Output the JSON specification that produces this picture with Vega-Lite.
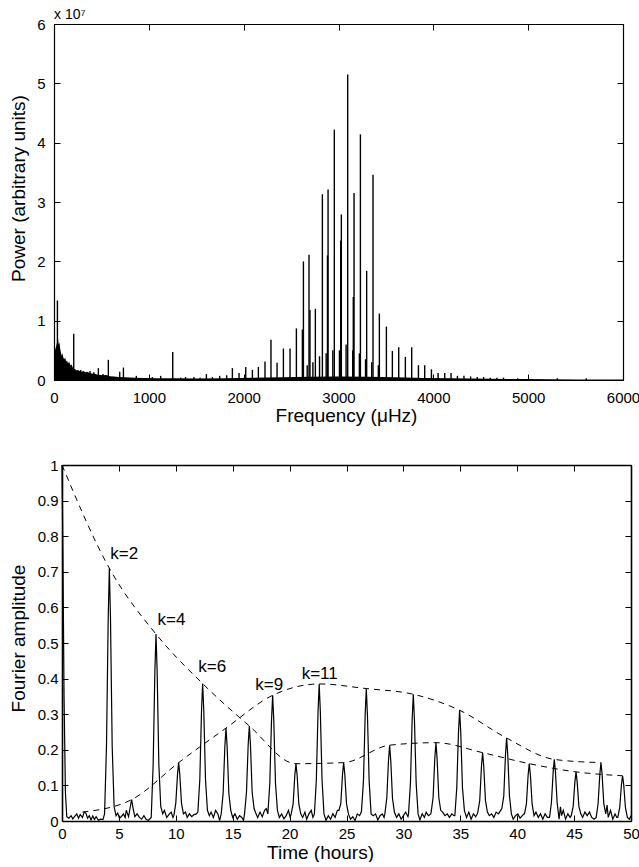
{
  "$schema": "https://vega.github.io/schema/vega-lite/v6.json",
  "padding": {"left": 8, "top": 8, "right": 0, "bottom": 0},
  "config": {
    "font": "Liberation Sans",
    "view": {"stroke": null},
    "axis": {
      "grid": false, "domainColor": "black", "tickColor": "black", "labelColor": "black", "titleColor": "black",
      "labelFont": "Liberation Sans", "titleFont": "Liberation Sans", "labelFontSize": 15, "titleFontSize": 19,
      "titleFontWeight": "normal", "tickSize": -6, "domainWidth": 1.2, "tickWidth": 1, "labelFlush": false, "labelOverlap": false
    },
    "title": {"font": "Liberation Sans", "color": "black"}
  },
  "datasets": {
    "spacer": [{"s": 0}],
    "spikes": [
      {"freq": 36, "power": 13400000}, {"freq": 208, "power": 7800000}, {"freq": 282, "power": 1700000},
      {"freq": 380, "power": 1500000}, {"freq": 420, "power": 1300000}, {"freq": 468, "power": 2000000},
      {"freq": 517, "power": 1000000}, {"freq": 573, "power": 3400000}, {"freq": 693, "power": 1400000},
      {"freq": 732, "power": 2100000}, {"freq": 868, "power": 700000}, {"freq": 1037, "power": 500000},
      {"freq": 1125, "power": 700000}, {"freq": 1252, "power": 4700000}, {"freq": 1336, "power": 400000},
      {"freq": 1387, "power": 500000}, {"freq": 1476, "power": 500000}, {"freq": 1540, "power": 400000},
      {"freq": 1607, "power": 1000000}, {"freq": 1670, "power": 500000}, {"freq": 1747, "power": 700000},
      {"freq": 1821, "power": 800000}, {"freq": 1881, "power": 2000000}, {"freq": 1951, "power": 1200000},
      {"freq": 2022, "power": 2200000}, {"freq": 2092, "power": 1700000}, {"freq": 2155, "power": 2200000},
      {"freq": 2225, "power": 3100000}, {"freq": 2288, "power": 6800000}, {"freq": 2352, "power": 2900000},
      {"freq": 2419, "power": 5300000}, {"freq": 2489, "power": 5300000}, {"freq": 2556, "power": 8700000},
      {"freq": 2619, "power": 8500000}, {"freq": 2630, "power": 20000000}, {"freq": 2670, "power": 2500000},
      {"freq": 2689, "power": 21100000}, {"freq": 2699, "power": 11800000}, {"freq": 2730, "power": 3000000},
      {"freq": 2756, "power": 12000000}, {"freq": 2800, "power": 4000000}, {"freq": 2830, "power": 31300000},
      {"freq": 2870, "power": 4500000}, {"freq": 2884, "power": 21000000}, {"freq": 2890, "power": 32100000},
      {"freq": 2940, "power": 5000000}, {"freq": 2956, "power": 42200000}, {"freq": 3010, "power": 5000000},
      {"freq": 3023, "power": 23500000}, {"freq": 3030, "power": 27900000}, {"freq": 3080, "power": 6000000},
      {"freq": 3097, "power": 51500000}, {"freq": 3150, "power": 5000000}, {"freq": 3156, "power": 14000000},
      {"freq": 3164, "power": 31500000}, {"freq": 3220, "power": 4500000}, {"freq": 3231, "power": 41400000},
      {"freq": 3285, "power": 3500000}, {"freq": 3297, "power": 18400000}, {"freq": 3350, "power": 3000000},
      {"freq": 3364, "power": 34600000}, {"freq": 3420, "power": 2500000}, {"freq": 3431, "power": 11200000},
      {"freq": 3505, "power": 9000000}, {"freq": 3568, "power": 4900000}, {"freq": 3635, "power": 5500000},
      {"freq": 3705, "power": 3900000}, {"freq": 3772, "power": 5500000}, {"freq": 3843, "power": 2500000},
      {"freq": 3909, "power": 2500000}, {"freq": 3980, "power": 1800000}, {"freq": 4050, "power": 1200000},
      {"freq": 4120, "power": 1200000}, {"freq": 4187, "power": 1200000}, {"freq": 4254, "power": 700000},
      {"freq": 4323, "power": 700000}, {"freq": 4393, "power": 600000}, {"freq": 4463, "power": 500000},
      {"freq": 4530, "power": 500000}, {"freq": 4600, "power": 400000}, {"freq": 4670, "power": 400000},
      {"freq": 4740, "power": 400000}, {"freq": 4890, "power": 300000}, {"freq": 5308, "power": 300000},
      {"freq": 5613, "power": 300000}
    ],
    "floor": [
      {"freq": 8, "power": 0}, {"freq": 10, "power": 5000000}, {"freq": 20, "power": 5500000},
      {"freq": 30, "power": 6200000}, {"freq": 42, "power": 7100000}, {"freq": 50, "power": 6000000},
      {"freq": 58, "power": 6300000}, {"freq": 66, "power": 5200000}, {"freq": 75, "power": 4500000},
      {"freq": 82, "power": 4100000}, {"freq": 90, "power": 4500000}, {"freq": 98, "power": 3800000},
      {"freq": 108, "power": 3500000}, {"freq": 118, "power": 3800000}, {"freq": 128, "power": 3100000},
      {"freq": 138, "power": 3300000}, {"freq": 148, "power": 2800000}, {"freq": 160, "power": 3100000},
      {"freq": 172, "power": 2500000}, {"freq": 185, "power": 2600000}, {"freq": 198, "power": 2100000},
      {"freq": 212, "power": 1900000}, {"freq": 225, "power": 1800000}, {"freq": 240, "power": 1600000},
      {"freq": 255, "power": 1700000}, {"freq": 270, "power": 1500000}, {"freq": 290, "power": 1400000},
      {"freq": 310, "power": 1500000}, {"freq": 330, "power": 1300000}, {"freq": 350, "power": 1400000},
      {"freq": 375, "power": 1200000}, {"freq": 400, "power": 1100000}, {"freq": 430, "power": 1050000},
      {"freq": 460, "power": 900000}, {"freq": 490, "power": 850000}, {"freq": 520, "power": 800000},
      {"freq": 550, "power": 850000}, {"freq": 590, "power": 650000}, {"freq": 630, "power": 600000},
      {"freq": 680, "power": 500000}, {"freq": 750, "power": 450000}, {"freq": 850, "power": 380000},
      {"freq": 950, "power": 330000}, {"freq": 1100, "power": 300000}, {"freq": 1300, "power": 280000},
      {"freq": 1500, "power": 250000}, {"freq": 1800, "power": 300000}, {"freq": 2100, "power": 380000},
      {"freq": 2400, "power": 450000}, {"freq": 2700, "power": 550000}, {"freq": 3000, "power": 600000},
      {"freq": 3300, "power": 550000}, {"freq": 3600, "power": 450000}, {"freq": 3900, "power": 350000},
      {"freq": 4200, "power": 280000}, {"freq": 4600, "power": 200000}, {"freq": 5000, "power": 150000},
      {"freq": 5500, "power": 100000}, {"freq": 6000, "power": 80000}
    ],
    "signal": [
      {"t": 0, "a": 1.0}, {"t": 0.08, "a": 0.75}, {"t": 0.18, "a": 0.35}, {"t": 0.3, "a": 0.08}, {"t": 0.42, "a": 0.012},
      {"t": 0.6, "a": 0.008}, {"t": 0.8, "a": 0.015}, {"t": 0.95, "a": 0.006}, {"t": 1.1, "a": 0.012}, {"t": 1.3, "a": 0.02},
      {"t": 1.45, "a": 0.008}, {"t": 1.6, "a": 0.018}, {"t": 1.8, "a": 0.01}, {"t": 1.95, "a": 0.025}, {"t": 2.1, "a": 0.022},
      {"t": 2.25, "a": 0.008}, {"t": 2.4, "a": 0.015}, {"t": 2.55, "a": 0.003}, {"t": 2.7, "a": 0.014}, {"t": 2.85, "a": 0.004},
      {"t": 3.0, "a": 0.012}, {"t": 3.2, "a": 0.002}, {"t": 3.4, "a": 0.005}, {"t": 3.6, "a": 0.004},
      {"t": 3.74, "a": 0.02}, {"t": 3.91, "a": 0.21}, {"t": 4.06, "a": 0.57}, {"t": 4.16, "a": 0.71}, {"t": 4.26, "a": 0.57}, {"t": 4.41, "a": 0.21}, {"t": 4.58, "a": 0.04},
      {"t": 4.75, "a": 0.015}, {"t": 4.9, "a": 0.022}, {"t": 5.05, "a": 0.008}, {"t": 5.2, "a": 0.012}, {"t": 5.4, "a": 0.02}, {"t": 5.55, "a": 0.01}, {"t": 5.65, "a": 0.03},
      {"t": 5.85, "a": 0.012}, {"t": 6.0, "a": 0.04}, {"t": 6.12, "a": 0.06}, {"t": 6.25, "a": 0.035}, {"t": 6.4, "a": 0.012},
      {"t": 6.6, "a": 0.02}, {"t": 6.8, "a": 0.01}, {"t": 7.0, "a": 0.005}, {"t": 7.2, "a": 0.015}, {"t": 7.4, "a": 0.004}, {"t": 7.6, "a": 0.002},
      {"t": 7.84, "a": 0.01}, {"t": 8.01, "a": 0.158}, {"t": 8.16, "a": 0.42}, {"t": 8.26, "a": 0.525}, {"t": 8.36, "a": 0.42}, {"t": 8.51, "a": 0.158}, {"t": 8.68, "a": 0.04},
      {"t": 8.85, "a": 0.02}, {"t": 9.0, "a": 0.03}, {"t": 9.2, "a": 0.01}, {"t": 9.45, "a": 0.02}, {"t": 9.6, "a": 0.025}, {"t": 9.75, "a": 0.01},
      {"t": 9.83, "a": 0.015}, {"t": 10.0, "a": 0.05}, {"t": 10.15, "a": 0.131}, {"t": 10.25, "a": 0.164}, {"t": 10.35, "a": 0.131}, {"t": 10.5, "a": 0.05}, {"t": 10.67, "a": 0.02},
      {"t": 10.85, "a": 0.025}, {"t": 11.0, "a": 0.01}, {"t": 11.2, "a": 0.02}, {"t": 11.4, "a": 0.012}, {"t": 11.6, "a": 0.018}, {"t": 11.8, "a": 0.02},
      {"t": 11.94, "a": 0.025}, {"t": 12.11, "a": 0.116}, {"t": 12.26, "a": 0.309}, {"t": 12.36, "a": 0.386}, {"t": 12.46, "a": 0.309}, {"t": 12.61, "a": 0.116}, {"t": 12.78, "a": 0.03},
      {"t": 12.95, "a": 0.015}, {"t": 13.1, "a": 0.025}, {"t": 13.3, "a": 0.01}, {"t": 13.5, "a": 0.03}, {"t": 13.7, "a": 0.02}, {"t": 13.85, "a": 0.001},
      {"t": 13.99, "a": 0.02}, {"t": 14.16, "a": 0.078}, {"t": 14.31, "a": 0.209}, {"t": 14.41, "a": 0.261}, {"t": 14.51, "a": 0.209}, {"t": 14.66, "a": 0.078}, {"t": 14.83, "a": 0.03},
      {"t": 15.0, "a": 0.01}, {"t": 15.2, "a": 0.02}, {"t": 15.4, "a": 0.005}, {"t": 15.6, "a": 0.015}, {"t": 15.8, "a": 0.01}, {"t": 15.95, "a": 0.002},
      {"t": 16.04, "a": 0.02}, {"t": 16.21, "a": 0.08}, {"t": 16.36, "a": 0.214}, {"t": 16.46, "a": 0.267}, {"t": 16.56, "a": 0.214}, {"t": 16.71, "a": 0.08}, {"t": 16.88, "a": 0.035},
      {"t": 17.05, "a": 0.02}, {"t": 17.2, "a": 0.01}, {"t": 17.4, "a": 0.025}, {"t": 17.6, "a": 0.012}, {"t": 17.8, "a": 0.03}, {"t": 17.95, "a": 0.035},
      {"t": 18.09, "a": 0.02}, {"t": 18.26, "a": 0.106}, {"t": 18.41, "a": 0.282}, {"t": 18.51, "a": 0.353}, {"t": 18.61, "a": 0.282}, {"t": 18.76, "a": 0.106}, {"t": 18.93, "a": 0.03},
      {"t": 19.1, "a": 0.01}, {"t": 19.3, "a": 0.02}, {"t": 19.5, "a": 0.006}, {"t": 19.7, "a": 0.015}, {"t": 19.9, "a": 0.03}, {"t": 20.05, "a": 0.01},
      {"t": 20.14, "a": 0.02}, {"t": 20.31, "a": 0.048}, {"t": 20.46, "a": 0.129}, {"t": 20.56, "a": 0.161}, {"t": 20.66, "a": 0.129}, {"t": 20.81, "a": 0.048}, {"t": 20.98, "a": 0.02},
      {"t": 21.15, "a": 0.01}, {"t": 21.35, "a": 0.025}, {"t": 21.5, "a": 0.005}, {"t": 21.7, "a": 0.02}, {"t": 21.9, "a": 0.03}, {"t": 22.05, "a": 0.01},
      {"t": 22.18, "a": 0.02}, {"t": 22.35, "a": 0.116}, {"t": 22.5, "a": 0.308}, {"t": 22.6, "a": 0.385}, {"t": 22.7, "a": 0.308}, {"t": 22.85, "a": 0.116}, {"t": 23.02, "a": 0.02},
      {"t": 23.2, "a": 0.002}, {"t": 23.4, "a": 0.015}, {"t": 23.6, "a": 0.005}, {"t": 23.8, "a": 0.02}, {"t": 24.0, "a": 0.01}, {"t": 24.2, "a": 0.03},
      {"t": 24.33, "a": 0.03}, {"t": 24.5, "a": 0.049}, {"t": 24.65, "a": 0.131}, {"t": 24.75, "a": 0.164}, {"t": 24.85, "a": 0.131}, {"t": 25.0, "a": 0.049}, {"t": 25.17, "a": 0.02},
      {"t": 25.35, "a": 0.005}, {"t": 25.55, "a": 0.012}, {"t": 25.75, "a": 0.001}, {"t": 25.95, "a": 0.02}, {"t": 26.15, "a": 0.015}, {"t": 26.3, "a": 0.025},
      {"t": 26.32, "a": 0.03}, {"t": 26.49, "a": 0.112}, {"t": 26.64, "a": 0.298}, {"t": 26.74, "a": 0.372}, {"t": 26.84, "a": 0.298}, {"t": 26.99, "a": 0.112}, {"t": 27.16, "a": 0.02},
      {"t": 27.35, "a": 0.015}, {"t": 27.55, "a": 0.02}, {"t": 27.75, "a": 0.003}, {"t": 27.95, "a": 0.015}, {"t": 28.15, "a": 0.02}, {"t": 28.3, "a": 0.01},
      {"t": 28.37, "a": 0.02}, {"t": 28.54, "a": 0.064}, {"t": 28.69, "a": 0.17}, {"t": 28.79, "a": 0.213}, {"t": 28.89, "a": 0.17}, {"t": 29.04, "a": 0.064}, {"t": 29.21, "a": 0.025},
      {"t": 29.4, "a": 0.01}, {"t": 29.6, "a": 0.02}, {"t": 29.8, "a": 0.005}, {"t": 30.0, "a": 0.015}, {"t": 30.2, "a": 0.025}, {"t": 30.4, "a": 0.012},
      {"t": 30.45, "a": 0.02}, {"t": 30.62, "a": 0.107}, {"t": 30.77, "a": 0.285}, {"t": 30.87, "a": 0.356}, {"t": 30.97, "a": 0.285}, {"t": 31.12, "a": 0.107}, {"t": 31.29, "a": 0.02},
      {"t": 31.45, "a": 0.003}, {"t": 31.65, "a": 0.02}, {"t": 31.85, "a": 0.01}, {"t": 32.0, "a": 0.025}, {"t": 32.2, "a": 0.015}, {"t": 32.4, "a": 0.02},
      {"t": 32.44, "a": 0.025}, {"t": 32.61, "a": 0.066}, {"t": 32.76, "a": 0.176}, {"t": 32.86, "a": 0.22}, {"t": 32.96, "a": 0.176}, {"t": 33.11, "a": 0.066}, {"t": 33.28, "a": 0.03},
      {"t": 33.45, "a": 0.025}, {"t": 33.65, "a": 0.015}, {"t": 33.85, "a": 0.02}, {"t": 34.05, "a": 0.01}, {"t": 34.25, "a": 0.02}, {"t": 34.45, "a": 0.015},
      {"t": 34.52, "a": 0.015}, {"t": 34.69, "a": 0.093}, {"t": 34.84, "a": 0.249}, {"t": 34.94, "a": 0.311}, {"t": 35.04, "a": 0.249}, {"t": 35.19, "a": 0.093}, {"t": 35.36, "a": 0.03},
      {"t": 35.55, "a": 0.01}, {"t": 35.75, "a": 0.025}, {"t": 35.95, "a": 0.005}, {"t": 36.15, "a": 0.02}, {"t": 36.35, "a": 0.012}, {"t": 36.5, "a": 0.02},
      {"t": 36.54, "a": 0.025}, {"t": 36.71, "a": 0.058}, {"t": 36.86, "a": 0.154}, {"t": 36.96, "a": 0.192}, {"t": 37.06, "a": 0.154}, {"t": 37.21, "a": 0.058}, {"t": 37.38, "a": 0.025},
      {"t": 37.55, "a": 0.015}, {"t": 37.75, "a": 0.02}, {"t": 37.95, "a": 0.01}, {"t": 38.15, "a": 0.025}, {"t": 38.35, "a": 0.02}, {"t": 38.55, "a": 0.03},
      {"t": 38.65, "a": 0.035}, {"t": 38.82, "a": 0.07}, {"t": 38.97, "a": 0.186}, {"t": 39.07, "a": 0.233}, {"t": 39.17, "a": 0.186}, {"t": 39.32, "a": 0.07}, {"t": 39.49, "a": 0.02},
      {"t": 39.65, "a": 0.005}, {"t": 39.85, "a": 0.015}, {"t": 40.05, "a": 0.02}, {"t": 40.25, "a": 0.008}, {"t": 40.45, "a": 0.015}, {"t": 40.6, "a": 0.02},
      {"t": 40.64, "a": 0.02}, {"t": 40.81, "a": 0.048}, {"t": 40.96, "a": 0.129}, {"t": 41.06, "a": 0.161}, {"t": 41.16, "a": 0.129}, {"t": 41.31, "a": 0.048}, {"t": 41.48, "a": 0.015},
      {"t": 41.65, "a": 0.025}, {"t": 41.85, "a": 0.01}, {"t": 42.05, "a": 0.02}, {"t": 42.25, "a": 0.005}, {"t": 42.45, "a": 0.02}, {"t": 42.65, "a": 0.01},
      {"t": 42.84, "a": 0.01}, {"t": 43.01, "a": 0.052}, {"t": 43.16, "a": 0.138}, {"t": 43.26, "a": 0.173}, {"t": 43.36, "a": 0.138}, {"t": 43.51, "a": 0.052}, {"t": 43.68, "a": 0.005},
      {"t": 43.8, "a": 0.04}, {"t": 43.9, "a": 0.015}, {"t": 44.05, "a": 0.03}, {"t": 44.25, "a": 0.005}, {"t": 44.45, "a": 0.02}, {"t": 44.65, "a": 0.01},
      {"t": 44.75, "a": 0.015}, {"t": 44.92, "a": 0.041}, {"t": 45.07, "a": 0.11}, {"t": 45.17, "a": 0.138}, {"t": 45.27, "a": 0.11}, {"t": 45.42, "a": 0.041}, {"t": 45.59, "a": 0.02},
      {"t": 45.75, "a": 0.01}, {"t": 45.95, "a": 0.025}, {"t": 46.15, "a": 0.015}, {"t": 46.35, "a": 0.025}, {"t": 46.55, "a": 0.01}, {"t": 46.75, "a": 0.005},
      {"t": 46.94, "a": 0.01}, {"t": 47.11, "a": 0.049}, {"t": 47.26, "a": 0.131}, {"t": 47.36, "a": 0.164}, {"t": 47.46, "a": 0.131}, {"t": 47.61, "a": 0.049}, {"t": 47.78, "a": 0.02},
      {"t": 47.9, "a": 0.045}, {"t": 48.0, "a": 0.01}, {"t": 48.2, "a": 0.03}, {"t": 48.4, "a": 0.005}, {"t": 48.6, "a": 0.02}, {"t": 48.75, "a": 0.01},
      {"t": 48.84, "a": 0.01}, {"t": 49.01, "a": 0.038}, {"t": 49.16, "a": 0.102}, {"t": 49.26, "a": 0.127}, {"t": 49.36, "a": 0.102}, {"t": 49.51, "a": 0.038}, {"t": 49.68, "a": 0.01},
      {"t": 49.85, "a": 0.005}, {"t": 50.0, "a": 0.015}
    ],
    "envelopes": [
      {"env": "A", "t": 0, "a": 1.0}, {"env": "A", "t": 4.16, "a": 0.71}, {"env": "A", "t": 8.26, "a": 0.525},
      {"env": "A", "t": 12.36, "a": 0.386}, {"env": "A", "t": 16.46, "a": 0.267}, {"env": "A", "t": 20.56, "a": 0.161},
      {"env": "A", "t": 24.75, "a": 0.164}, {"env": "A", "t": 28.79, "a": 0.213}, {"env": "A", "t": 32.86, "a": 0.22},
      {"env": "A", "t": 36.96, "a": 0.192}, {"env": "A", "t": 41.06, "a": 0.161}, {"env": "A", "t": 45.17, "a": 0.138},
      {"env": "A", "t": 49.26, "a": 0.127},
      {"env": "B", "t": 1.8, "a": 0.025}, {"env": "B", "t": 6.12, "a": 0.06}, {"env": "B", "t": 10.25, "a": 0.164},
      {"env": "B", "t": 14.41, "a": 0.261}, {"env": "B", "t": 18.51, "a": 0.353}, {"env": "B", "t": 22.6, "a": 0.385},
      {"env": "B", "t": 26.74, "a": 0.372}, {"env": "B", "t": 30.87, "a": 0.356}, {"env": "B", "t": 34.94, "a": 0.311},
      {"env": "B", "t": 39.07, "a": 0.233}, {"env": "B", "t": 43.26, "a": 0.173}, {"env": "B", "t": 47.36, "a": 0.164}
    ],
    "labels": [
      {"label": "k=2", "t": 4.24, "a": 0.736}, {"label": "k=4", "t": 8.4, "a": 0.55}, {"label": "k=6", "t": 11.98, "a": 0.419},
      {"label": "k=9", "t": 16.99, "a": 0.367}, {"label": "k=11", "t": 21.06, "a": 0.4}
    ]
  },
  "vconcat": [
    {
      "spacing": 0,
      "hconcat": [
        {"width": 1, "height": 1, "data": {"name": "spacer"}, "mark": {"type": "point", "opacity": 0, "size": 1}, "encoding": {}},
        {
          "width": 569, "height": 356,
          "title": {"text": "x 10⁷", "anchor": "start", "frame": "group", "fontSize": 14, "fontWeight": "normal", "offset": -5},
          "layer": [
            {
              "data": {"name": "floor"},
              "mark": {"type": "area", "color": "black"},
              "encoding": {
                "x": {"field": "freq", "type": "quantitative", "scale": {"domain": [0, 6000], "nice": false},
                      "axis": {"orient": "bottom", "title": "Frequency (μHz)", "values": [0, 1000, 2000, 3000, 4000, 5000, 6000], "format": "d",
                               "labelPadding": 16, "titlePadding": 1, "titleX": 292, "titleAlign": "center"}},
                "y": {"field": "power", "type": "quantitative", "scale": {"domain": [0, 60000000], "nice": false},
                      "axis": {"orient": "left", "title": "Power (arbitrary units)", "values": [0, 10000000, 20000000, 30000000, 40000000, 50000000, 60000000],
                               "labelExpr": "'' + (datum.value / 10000000)", "labelPadding": 15, "titlePadding": 8, "titleY": 164, "titleAlign": "center"}}
              }
            },
            {
              "data": {"name": "spikes"},
              "mark": {"type": "rule", "color": "black", "strokeWidth": 1.4},
              "encoding": {
                "x": {"field": "freq", "type": "quantitative",
                      "axis": {"orient": "top", "title": null, "labels": false, "values": [0, 1000, 2000, 3000, 4000, 5000, 6000]}},
                "y": {"field": "power", "type": "quantitative",
                      "axis": {"orient": "right", "title": null, "labels": false, "values": [0, 10000000, 20000000, 30000000, 40000000, 50000000, 60000000]}},
                "y2": {"datum": 0}
              }
            }
          ],
          "resolve": {"axis": {"x": "independent", "y": "independent"}}
        }
      ]
    },
    {
      "spacing": 0,
      "hconcat": [
        {"width": 1, "height": 1, "data": {"name": "spacer"}, "mark": {"type": "point", "opacity": 0, "size": 1}, "encoding": {}},
        {
          "width": 569, "height": 356,
          "layer": [
            {
              "data": {"name": "signal"},
              "mark": {"type": "line", "color": "black", "strokeWidth": 1.2},
              "encoding": {
                "x": {"field": "t", "type": "quantitative", "scale": {"domain": [0, 50], "nice": false},
                      "axis": {"orient": "bottom", "title": "Time (hours)", "values": [0, 5, 10, 15, 20, 25, 30, 35, 40, 45, 50],
                               "labelPadding": 11, "titlePadding": 2, "titleX": 258, "titleAlign": "center", "domainWidth": 1.6}},
                "y": {"field": "a", "type": "quantitative", "scale": {"domain": [0, 1], "nice": false},
                      "axis": {"orient": "left", "title": "Fourier amplitude", "values": [0, 0.1, 0.2, 0.3, 0.4, 0.5, 0.6, 0.7, 0.8, 0.9, 1],
                               "format": ".1~f", "labelPadding": 10, "titlePadding": 9, "titleY": 173, "titleAlign": "center", "domainWidth": 1.6}}
              }
            },
            {
              "data": {"name": "envelopes"},
              "mark": {"type": "line", "color": "black", "strokeWidth": 1, "strokeDash": [6, 5], "interpolate": "monotone"},
              "encoding": {
                "x": {"field": "t", "type": "quantitative",
                      "axis": {"orient": "top", "title": null, "labels": false, "values": [0, 5, 10, 15, 20, 25, 30, 35, 40, 45, 50], "domainWidth": 1.6}},
                "y": {"field": "a", "type": "quantitative",
                      "axis": {"orient": "right", "title": null, "labels": false, "values": [0, 0.1, 0.2, 0.3, 0.4, 0.5, 0.6, 0.7, 0.8, 0.9, 1], "domainWidth": 1.6}},
                "detail": {"field": "env", "type": "nominal"}
              }
            },
            {
              "data": {"name": "labels"},
              "mark": {"type": "text", "color": "black", "fontSize": 17, "align": "left", "baseline": "alphabetic", "font": "Liberation Sans"},
              "encoding": {
                "x": {"field": "t", "type": "quantitative", "axis": null},
                "y": {"field": "a", "type": "quantitative", "axis": null},
                "text": {"field": "label"}
              }
            }
          ],
          "resolve": {"axis": {"x": "independent", "y": "independent"}}
        }
      ]
    }
  ],
  "spacing": 33
}
